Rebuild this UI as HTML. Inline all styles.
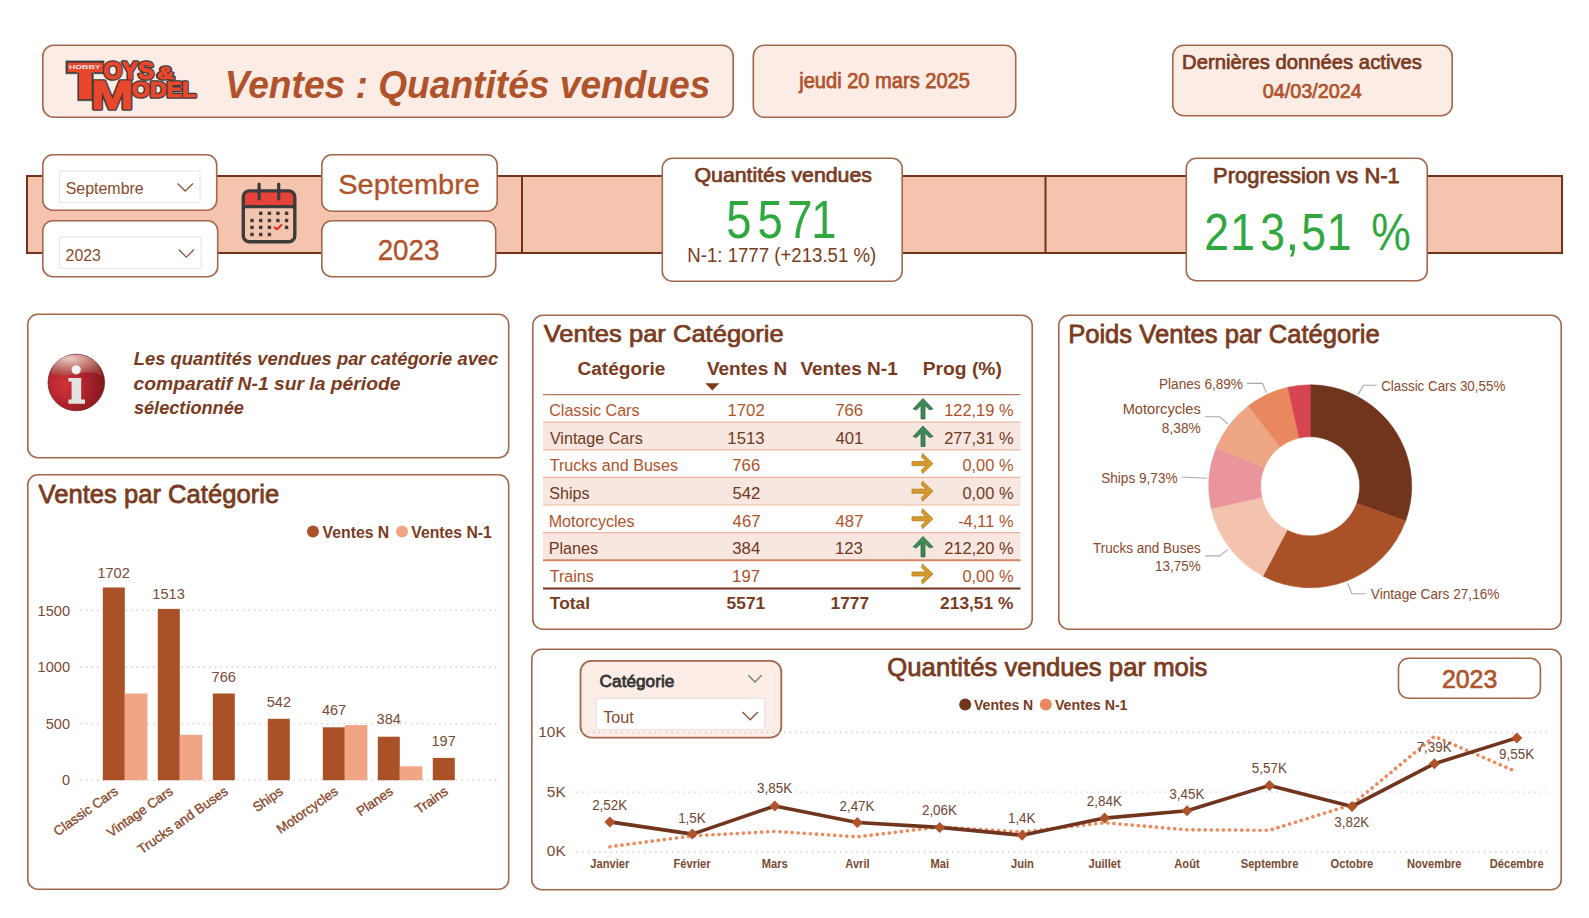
<!DOCTYPE html>
<html><head><meta charset="utf-8"><style>
html,body{margin:0;padding:0;background:#fff;width:1589px;height:918px;overflow:hidden}
svg{position:absolute;left:0;top:0;font-family:'Liberation Sans', sans-serif}
</style></head><body>
<svg width="1589" height="918" viewBox="0 0 1589 918">
<rect x="42.80" y="45.30" width="690.40" height="71.90" rx="11" ry="11" fill="#fcece6" stroke="#a4674c" stroke-width="1.6"/>
<rect x="753.30" y="45.30" width="262.40" height="71.90" rx="11" ry="11" fill="#fcece6" stroke="#a4674c" stroke-width="1.6"/>
<rect x="1172.80" y="45.30" width="279.40" height="70.40" rx="11" ry="11" fill="#fcece6" stroke="#a4674c" stroke-width="1.6"/>
<text x="224.84" y="98.30" font-size="39.57" font-weight="bold" font-style="italic" fill="#b0532a" textLength="485.57" lengthAdjust="spacingAndGlyphs" >Ventes : Quantités vendues</text>
<text x="799.25" y="88.10" font-size="21.43" font-weight="normal" font-style="normal" fill="#b0532a" textLength="170.61" lengthAdjust="spacingAndGlyphs"  stroke="#b0532a" stroke-width="0.75" stroke-linejoin="round">jeudi 20 mars 2025</text>
<text x="1182.03" y="69.10" font-size="20.29" font-weight="normal" font-style="normal" fill="#7a3b1e" textLength="239.92" lengthAdjust="spacingAndGlyphs"  stroke="#7a3b1e" stroke-width="0.71" stroke-linejoin="round">Dernières données actives</text>
<text x="1262.85" y="97.80" font-size="20.43" font-weight="normal" font-style="normal" fill="#b0532a" textLength="98.99" lengthAdjust="spacingAndGlyphs"  stroke="#b0532a" stroke-width="0.72" stroke-linejoin="round">04/03/2024</text>
<g>
<rect x="65.7" y="60.7" width="38.5" height="13.3" fill="#3b3b3b" stroke="#9a9a9a" stroke-width="0.6"/>
<rect x="77.3" y="72" width="16.4" height="29" fill="#3b3b3b" stroke="#9a9a9a" stroke-width="0.6"/>
<rect x="67.5" y="62.7" width="35.7" height="9.5" fill="#e8472b"/>
<rect x="79" y="72" width="12.7" height="27.2" fill="#e8472b"/>
<text x="68.93" y="69.30" font-size="6.23" font-weight="bold" font-style="normal" fill="#f2e8e6" textLength="31.71" lengthAdjust="spacingAndGlyphs" >HOBBY</text>
<text x="103.55" y="78.60" font-size="23.62" font-weight="bold" font-style="normal" fill="#e8472b" textLength="50.33" lengthAdjust="spacingAndGlyphs" stroke="#3b3b3b" stroke-width="3.6" paint-order="stroke" stroke-linejoin="round">OYS</text>
<text x="157.25" y="78.60" font-size="17.10" font-weight="bold" font-style="normal" fill="#e8472b" textLength="16.80" lengthAdjust="spacingAndGlyphs" stroke="#3b3b3b" stroke-width="3.6" paint-order="stroke" stroke-linejoin="round">&amp;</text>
<text x="131.77" y="97.10" font-size="22.46" font-weight="bold" font-style="normal" fill="#e8472b" textLength="64.29" lengthAdjust="spacingAndGlyphs" stroke="#3b3b3b" stroke-width="3.6" paint-order="stroke" stroke-linejoin="round">ODEL</text>
<text x="90.66" y="109.30" font-size="41.30" font-weight="bold" font-style="normal" fill="#e8472b" textLength="42.84" lengthAdjust="spacingAndGlyphs" stroke="#3b3b3b" stroke-width="3.6" paint-order="stroke" stroke-linejoin="round">M</text>
<text x="103.55" y="78.60" font-size="23.62" font-weight="bold" font-style="normal" fill="#e8472b" textLength="50.33" lengthAdjust="spacingAndGlyphs" stroke="#e8472b" stroke-width="1.1" paint-order="stroke" stroke-linejoin="round">OYS</text>
<text x="157.25" y="78.60" font-size="17.10" font-weight="bold" font-style="normal" fill="#e8472b" textLength="16.80" lengthAdjust="spacingAndGlyphs" stroke="#e8472b" stroke-width="1.1" paint-order="stroke" stroke-linejoin="round">&amp;</text>
<text x="131.77" y="97.10" font-size="22.46" font-weight="bold" font-style="normal" fill="#e8472b" textLength="64.29" lengthAdjust="spacingAndGlyphs" stroke="#e8472b" stroke-width="1.1" paint-order="stroke" stroke-linejoin="round">ODEL</text>
<text x="90.66" y="109.30" font-size="41.30" font-weight="bold" font-style="normal" fill="#e8472b" textLength="42.84" lengthAdjust="spacingAndGlyphs" stroke="#e8472b" stroke-width="1.1" paint-order="stroke" stroke-linejoin="round">M</text>
</g>
<rect x="27" y="176" width="1535" height="77" fill="#f4c4ae" stroke="#71341a" stroke-width="2"/>
<line x1="522" y1="176" x2="522" y2="253" stroke="#71341a" stroke-width="2"/>
<line x1="1045.5" y1="176" x2="1045.5" y2="253" stroke="#71341a" stroke-width="2"/>
<rect x="42.80" y="154.80" width="173.90" height="55.40" rx="10" ry="10" fill="#ffffff" stroke="#a4674c" stroke-width="1.6"/>
<rect x="42.80" y="220.80" width="174.90" height="55.90" rx="10" ry="10" fill="#ffffff" stroke="#a4674c" stroke-width="1.6"/>
<rect x="59.5" y="171" width="140.5" height="31.5" fill="#fff" stroke="#e6e6e6" stroke-width="1"/>
<rect x="59.5" y="237" width="141.5" height="31.5" fill="#fff" stroke="#e6e6e6" stroke-width="1"/>
<text x="65.68" y="194.10" font-size="16.29" font-weight="normal" font-style="normal" fill="#8a4a2c" textLength="78.06" lengthAdjust="spacingAndGlyphs" >Septembre</text>
<text x="65.61" y="260.60" font-size="16.71" font-weight="normal" font-style="normal" fill="#8a4a2c" textLength="35.32" lengthAdjust="spacingAndGlyphs" >2023</text>
<polyline points="177.5,183.5 185.2,191 193,183.5" fill="none" stroke="#8a5a44" stroke-width="1.3"/>
<polyline points="178.7,249.5 186.3,257.2 194,249.5" fill="none" stroke="#8a5a44" stroke-width="1.3"/>
<rect x="243.3" y="190.9" width="51.5" height="50.8" rx="6" fill="#e8433a" stroke="none"/>
<rect x="243.3" y="206.5" width="51.5" height="35.2" fill="#f4c4ae"/>
<rect x="243.3" y="190.9" width="51.5" height="50.8" rx="6" fill="none" stroke="#3c3c3c" stroke-width="3.4"/>
<line x1="243.3" y1="206.6" x2="294.8" y2="206.6" stroke="#3c3c3c" stroke-width="3.2"/>
<line x1="259.1" y1="184" x2="259.1" y2="199" stroke="#3c3c3c" stroke-width="3.2" stroke-linecap="round"/>
<line x1="278.7" y1="184" x2="278.7" y2="199" stroke="#3c3c3c" stroke-width="3.2" stroke-linecap="round"/>
<rect x="259.0" y="211.6" width="3.4" height="3.4" fill="#3c3c3c"/>
<rect x="267.7" y="211.6" width="3.4" height="3.4" fill="#3c3c3c"/>
<rect x="276.2" y="211.6" width="3.4" height="3.4" fill="#3c3c3c"/>
<rect x="284.9" y="211.6" width="3.4" height="3.4" fill="#3c3c3c"/>
<rect x="250.3" y="218.8" width="3.4" height="3.4" fill="#3c3c3c"/>
<rect x="259.0" y="218.8" width="3.4" height="3.4" fill="#3c3c3c"/>
<rect x="267.7" y="218.8" width="3.4" height="3.4" fill="#3c3c3c"/>
<rect x="276.2" y="218.8" width="3.4" height="3.4" fill="#3c3c3c"/>
<rect x="284.9" y="218.8" width="3.4" height="3.4" fill="#3c3c3c"/>
<rect x="250.3" y="225.7" width="3.4" height="3.4" fill="#3c3c3c"/>
<rect x="259.0" y="225.7" width="3.4" height="3.4" fill="#3c3c3c"/>
<rect x="267.7" y="225.7" width="3.4" height="3.4" fill="#3c3c3c"/>
<rect x="284.9" y="225.7" width="3.4" height="3.4" fill="#3c3c3c"/>
<rect x="250.3" y="232.8" width="3.4" height="3.4" fill="#3c3c3c"/>
<rect x="259.0" y="232.8" width="3.4" height="3.4" fill="#3c3c3c"/>
<rect x="267.7" y="232.8" width="3.4" height="3.4" fill="#3c3c3c"/>
<polyline points="274.5,227.2 277,229.3 281.5,225" fill="none" stroke="#e02b2b" stroke-width="2" stroke-linecap="round"/>
<rect x="321.80" y="154.80" width="175.40" height="56.40" rx="10" ry="10" fill="#ffffff" stroke="#a4674c" stroke-width="1.6"/>
<rect x="321.80" y="220.80" width="173.90" height="55.90" rx="10" ry="10" fill="#ffffff" stroke="#a4674c" stroke-width="1.6"/>
<text x="338.27" y="193.80" font-size="28.29" font-weight="normal" font-style="normal" fill="#b0532a" textLength="141.71" lengthAdjust="spacingAndGlyphs"  stroke="#b0532a" stroke-width="0.34" stroke-linejoin="round">Septembre</text>
<text x="377.68" y="260.20" font-size="29.43" font-weight="normal" font-style="normal" fill="#b0532a" textLength="61.65" lengthAdjust="spacingAndGlyphs"  stroke="#b0532a" stroke-width="0.35" stroke-linejoin="round">2023</text>
<rect x="662.30" y="158.30" width="239.90" height="122.90" rx="10" ry="10" fill="#ffffff" stroke="#a4674c" stroke-width="1.6"/>
<rect x="1186.30" y="158.30" width="240.90" height="122.40" rx="10" ry="10" fill="#ffffff" stroke="#a4674c" stroke-width="1.6"/>
<text x="694.51" y="182.40" font-size="20.14" font-weight="normal" font-style="normal" fill="#7a3b1e" textLength="177.44" lengthAdjust="spacingAndGlyphs"  stroke="#7a3b1e" stroke-width="0.71" stroke-linejoin="round">Quantités vendues</text>
<text x="726.29" y="238.00" font-size="52.86" font-weight="normal" font-style="normal" fill="#2fa83f" textLength="25.28" lengthAdjust="spacingAndGlyphs" >5</text>
<text x="757.59" y="238.00" font-size="52.86" font-weight="normal" font-style="normal" fill="#2fa83f" textLength="25.28" lengthAdjust="spacingAndGlyphs" >5</text>
<text x="787.34" y="238.00" font-size="52.86" font-weight="normal" font-style="normal" fill="#2fa83f" textLength="25.28" lengthAdjust="spacingAndGlyphs" >7</text>
<text x="811.30" y="238.00" font-size="52.86" font-weight="normal" font-style="normal" fill="#2fa83f" textLength="25.28" lengthAdjust="spacingAndGlyphs" >1</text>
<text x="687.31" y="261.80" font-size="19.29" font-weight="normal" font-style="normal" fill="#7a3b1e" textLength="188.90" lengthAdjust="spacingAndGlyphs" >N-1: 1777 (+213.51 %)</text>
<text x="1213.13" y="182.90" font-size="21.29" font-weight="normal" font-style="normal" fill="#7a3b1e" textLength="186.65" lengthAdjust="spacingAndGlyphs"  stroke="#7a3b1e" stroke-width="0.75" stroke-linejoin="round">Progression vs N-1</text>
<text x="1204.36" y="250.00" font-size="51.71" font-weight="normal" font-style="normal" fill="#2fa83f" textLength="24.74" lengthAdjust="spacingAndGlyphs" >2</text>
<text x="1230.14" y="250.00" font-size="51.71" font-weight="normal" font-style="normal" fill="#2fa83f" textLength="24.74" lengthAdjust="spacingAndGlyphs" >1</text>
<text x="1260.26" y="250.00" font-size="51.71" font-weight="normal" font-style="normal" fill="#2fa83f" textLength="24.74" lengthAdjust="spacingAndGlyphs" >3</text>
<text x="1301.21" y="250.00" font-size="51.71" font-weight="normal" font-style="normal" fill="#2fa83f" textLength="24.74" lengthAdjust="spacingAndGlyphs" >5</text>
<text x="1326.79" y="250.00" font-size="51.71" font-weight="normal" font-style="normal" fill="#2fa83f" textLength="24.74" lengthAdjust="spacingAndGlyphs" >1</text>
<text x="1371.16" y="250.00" font-size="51.71" font-weight="normal" font-style="normal" fill="#2fa83f" textLength="39.54" lengthAdjust="spacingAndGlyphs" >%</text>
<text x="1285.21" y="250.00" font-size="51.71" font-weight="normal" font-style="normal" fill="#2fa83f" textLength="14.17" lengthAdjust="spacingAndGlyphs" >,</text>
<rect x="27.80" y="314.30" width="480.90" height="143.40" rx="10" ry="10" fill="#ffffff" stroke="#a4674c" stroke-width="1.6"/>
<defs><radialGradient id="ig" cx="0.3" cy="0.55" r="0.75"><stop offset="0" stop-color="#d23238"/><stop offset="0.55" stop-color="#a8222a"/><stop offset="1" stop-color="#7a1619"/></radialGradient><radialGradient id="ih" cx="0.38" cy="0.2" r="0.8"><stop offset="0" stop-color="#f0d8d2" stop-opacity="0.95"/><stop offset="0.6" stop-color="#c88c80" stop-opacity="0.75"/><stop offset="1" stop-color="#a05048" stop-opacity="0.6"/></radialGradient></defs>
<circle cx="76.3" cy="382.5" r="28.3" fill="url(#ig)" stroke="#6e1a1a" stroke-width="0.7"/>
<path d="M51,374 C53,361 63,354.4 76.3,354.4 C90,354.4 100,362 102,376 C95,372 88,372 80,373.5 C70,375.5 60,376.5 51,374 Z" fill="url(#ih)"/>
<circle cx="76.2" cy="369.8" r="4.6" fill="#f2f2f2"/>
<path d="M68.4,378 L81.2,378 L81.2,399.5 L85,399.5 L85,403.8 L68.4,403.8 L68.4,399.5 L71.6,399.5 L71.6,381.5 L68.4,381.5 Z" fill="#e2e2e2"/>
<text x="133.73" y="364.60" font-size="17.43" font-weight="bold" font-style="italic" fill="#7a3b1e" textLength="364.58" lengthAdjust="spacingAndGlyphs" >Les quantités vendues par catégorie avec</text>
<text x="133.52" y="390.20" font-size="17.43" font-weight="bold" font-style="italic" fill="#7a3b1e" textLength="267.00" lengthAdjust="spacingAndGlyphs" >comparatif N-1 sur la période</text>
<text x="133.92" y="414.10" font-size="17.43" font-weight="bold" font-style="italic" fill="#7a3b1e" textLength="110.00" lengthAdjust="spacingAndGlyphs" >sélectionnée</text>
<rect x="27.80" y="474.80" width="480.90" height="414.40" rx="10" ry="10" fill="#ffffff" stroke="#a4674c" stroke-width="1.6"/>
<rect x="532.80" y="315.30" width="499.40" height="313.90" rx="10" ry="10" fill="#ffffff" stroke="#a4674c" stroke-width="1.6"/>
<rect x="1058.80" y="315.30" width="502.40" height="313.90" rx="10" ry="10" fill="#ffffff" stroke="#a4674c" stroke-width="1.6"/>
<rect x="531.80" y="649.30" width="1029.40" height="240.40" rx="10" ry="10" fill="#ffffff" stroke="#a4674c" stroke-width="1.6"/>
<text x="38.46" y="502.90" font-size="26.29" font-weight="normal" font-style="normal" fill="#7a3b1e" textLength="240.72" lengthAdjust="spacingAndGlyphs"  stroke="#7a3b1e" stroke-width="0.79" stroke-linejoin="round">Ventes par Catégorie</text>
<circle cx="313" cy="531.5" r="6" fill="#ab5128"/>
<text x="322.62" y="537.70" font-size="17.14" font-weight="bold" font-style="normal" fill="#7a3b1e" textLength="66.57" lengthAdjust="spacingAndGlyphs" >Ventes N</text>
<circle cx="402" cy="531.5" r="6" fill="#f0a585"/>
<text x="411.32" y="537.70" font-size="17.14" font-weight="bold" font-style="normal" fill="#7a3b1e" textLength="80.43" lengthAdjust="spacingAndGlyphs" >Ventes N-1</text>
<line x1="80.5" y1="780.2" x2="497" y2="780.2" stroke="#c9c9c9" stroke-width="1.3" stroke-dasharray="1.3 4.3"/>
<text x="61.92" y="785.30" font-size="14.57" font-weight="normal" font-style="normal" fill="#7a4a33" textLength="8.10" lengthAdjust="spacingAndGlyphs" >0</text>
<line x1="80.5" y1="723.6" x2="497" y2="723.6" stroke="#c9c9c9" stroke-width="1.3" stroke-dasharray="1.3 4.3"/>
<text x="45.75" y="728.70" font-size="14.57" font-weight="normal" font-style="normal" fill="#7a4a33" textLength="24.31" lengthAdjust="spacingAndGlyphs" >500</text>
<line x1="80.5" y1="667.0" x2="497" y2="667.0" stroke="#c9c9c9" stroke-width="1.3" stroke-dasharray="1.3 4.3"/>
<text x="37.59" y="672.10" font-size="14.57" font-weight="normal" font-style="normal" fill="#7a4a33" textLength="32.42" lengthAdjust="spacingAndGlyphs" >1000</text>
<line x1="80.5" y1="610.4" x2="497" y2="610.4" stroke="#c9c9c9" stroke-width="1.3" stroke-dasharray="1.3 4.3"/>
<text x="37.59" y="615.50" font-size="14.57" font-weight="normal" font-style="normal" fill="#7a4a33" textLength="32.42" lengthAdjust="spacingAndGlyphs" >1500</text>
<rect x="102.8" y="587.5" width="22" height="192.7" fill="#ab5128"/>
<rect x="124.8" y="693.5" width="22.6" height="86.7" fill="#f0a585"/>
<text x="97.41" y="577.50" font-size="14.57" font-weight="normal" font-style="normal" fill="#7a4a33" textLength="32.42" lengthAdjust="spacingAndGlyphs" >1702</text>
<text x="113.6" y="785.5" font-size="13.40" fill="#8a4a2c" stroke="#8a4a2c" stroke-width="0.35" text-anchor="end" dominant-baseline="hanging" transform="rotate(-35 113.6 785.5)">Classic Cars</text>
<rect x="157.8" y="608.9" width="22" height="171.3" fill="#ab5128"/>
<rect x="179.8" y="734.8" width="22.6" height="45.4" fill="#f0a585"/>
<text x="152.33" y="599.00" font-size="14.57" font-weight="normal" font-style="normal" fill="#7a4a33" textLength="32.42" lengthAdjust="spacingAndGlyphs" >1513</text>
<text x="168.6" y="785.5" font-size="13.40" fill="#8a4a2c" stroke="#8a4a2c" stroke-width="0.35" text-anchor="end" dominant-baseline="hanging" transform="rotate(-35 168.6 785.5)">Vintage Cars</text>
<rect x="212.8" y="693.5" width="22" height="86.7" fill="#ab5128"/>
<text x="211.60" y="682.20" font-size="14.57" font-weight="normal" font-style="normal" fill="#7a4a33" textLength="24.31" lengthAdjust="spacingAndGlyphs" >766</text>
<text x="223.6" y="785.5" font-size="13.40" fill="#8a4a2c" stroke="#8a4a2c" stroke-width="0.35" text-anchor="end" dominant-baseline="hanging" transform="rotate(-35 223.6 785.5)">Trucks and Buses</text>
<rect x="267.8" y="718.8" width="22" height="61.4" fill="#ab5128"/>
<text x="266.74" y="707.30" font-size="14.57" font-weight="normal" font-style="normal" fill="#7a4a33" textLength="24.31" lengthAdjust="spacingAndGlyphs" >542</text>
<text x="278.6" y="785.5" font-size="13.40" fill="#8a4a2c" stroke="#8a4a2c" stroke-width="0.35" text-anchor="end" dominant-baseline="hanging" transform="rotate(-35 278.6 785.5)">Ships</text>
<rect x="322.8" y="727.3" width="22" height="52.9" fill="#ab5128"/>
<rect x="344.8" y="725.1" width="22.6" height="55.1" fill="#f0a585"/>
<text x="321.89" y="715.00" font-size="14.57" font-weight="normal" font-style="normal" fill="#7a4a33" textLength="24.31" lengthAdjust="spacingAndGlyphs" >467</text>
<text x="333.6" y="785.5" font-size="13.40" fill="#8a4a2c" stroke="#8a4a2c" stroke-width="0.35" text-anchor="end" dominant-baseline="hanging" transform="rotate(-35 333.6 785.5)">Motorcycles</text>
<rect x="377.8" y="736.7" width="22" height="43.5" fill="#ab5128"/>
<rect x="399.8" y="766.3" width="22.6" height="13.9" fill="#f0a585"/>
<text x="376.60" y="724.40" font-size="14.57" font-weight="normal" font-style="normal" fill="#7a4a33" textLength="24.31" lengthAdjust="spacingAndGlyphs" >384</text>
<text x="388.6" y="785.5" font-size="13.40" fill="#8a4a2c" stroke="#8a4a2c" stroke-width="0.35" text-anchor="end" dominant-baseline="hanging" transform="rotate(-35 388.6 785.5)">Planes</text>
<rect x="432.8" y="757.9" width="22" height="22.3" fill="#ab5128"/>
<text x="431.49" y="745.60" font-size="14.57" font-weight="normal" font-style="normal" fill="#7a4a33" textLength="24.31" lengthAdjust="spacingAndGlyphs" >197</text>
<text x="443.6" y="785.5" font-size="13.40" fill="#8a4a2c" stroke="#8a4a2c" stroke-width="0.35" text-anchor="end" dominant-baseline="hanging" transform="rotate(-35 443.6 785.5)">Trains</text>
<text x="543.76" y="342.30" font-size="24.57" font-weight="normal" font-style="normal" fill="#7a3b1e" textLength="239.92" lengthAdjust="spacingAndGlyphs"  stroke="#7a3b1e" stroke-width="0.74" stroke-linejoin="round">Ventes par Catégorie</text>
<text x="577.44" y="375.30" font-size="18.86" font-weight="bold" font-style="normal" fill="#7a3b1e" textLength="87.98" lengthAdjust="spacingAndGlyphs" >Catégorie</text>
<text x="706.90" y="375.30" font-size="18.86" font-weight="bold" font-style="normal" fill="#7a3b1e" textLength="80.41" lengthAdjust="spacingAndGlyphs" >Ventes N</text>
<text x="800.40" y="374.90" font-size="18.86" font-weight="bold" font-style="normal" fill="#7a3b1e" textLength="97.34" lengthAdjust="spacingAndGlyphs" >Ventes N-1</text>
<text x="922.75" y="374.90" font-size="18.86" font-weight="bold" font-style="normal" fill="#7a3b1e" textLength="79.14" lengthAdjust="spacingAndGlyphs" >Prog (%)</text>
<polygon points="705.3,383.3 719.4,383.3 712.35,390.5" fill="#7a3b1e"/>
<rect x="543" y="422.2" width="477.5" height="27.6" fill="#f8e6e0"/>
<rect x="543" y="477.4" width="477.5" height="27.6" fill="#f8e6e0"/>
<rect x="543" y="532.6" width="477.5" height="27.6" fill="#f8e6e0"/>
<text x="549.20" y="416.10" font-size="16.43" font-weight="normal" font-style="normal" fill="#b0532a" textLength="90.35" lengthAdjust="spacingAndGlyphs" >Classic Cars</text>
<text x="727.45" y="416.10" font-size="16.43" font-weight="normal" font-style="normal" fill="#b0532a" textLength="37.28" lengthAdjust="spacingAndGlyphs" >1702</text>
<text x="835.17" y="416.10" font-size="16.43" font-weight="normal" font-style="normal" fill="#b0532a" textLength="27.96" lengthAdjust="spacingAndGlyphs" >766</text>
<text x="944.16" y="416.10" font-size="16.43" font-weight="normal" font-style="normal" fill="#b0532a" textLength="69.42" lengthAdjust="spacingAndGlyphs" >122,19 %</text>
<path d="M913,408.90000000000003 L923,398.40000000000003 L933,408.90000000000003 L929.5,409.90000000000003 L925,405.40000000000003 L925,418.90000000000003 L921,418.90000000000003 L921,405.40000000000003 L916.5,409.90000000000003 Z" fill="#3e8a55" stroke="#2d6b40" stroke-width="0.8" stroke-linejoin="round"/>
<text x="549.92" y="443.70" font-size="16.43" font-weight="normal" font-style="normal" fill="#6e3a22" textLength="92.78" lengthAdjust="spacingAndGlyphs" >Vintage Cars</text>
<text x="727.36" y="443.70" font-size="16.43" font-weight="normal" font-style="normal" fill="#6e3a22" textLength="37.28" lengthAdjust="spacingAndGlyphs" >1513</text>
<text x="835.46" y="443.70" font-size="16.43" font-weight="normal" font-style="normal" fill="#6e3a22" textLength="27.96" lengthAdjust="spacingAndGlyphs" >401</text>
<text x="944.16" y="443.70" font-size="16.43" font-weight="normal" font-style="normal" fill="#6e3a22" textLength="69.42" lengthAdjust="spacingAndGlyphs" >277,31 %</text>
<path d="M913,436.50000000000006 L923,426.00000000000006 L933,436.50000000000006 L929.5,437.50000000000006 L925,433.00000000000006 L925,446.50000000000006 L921,446.50000000000006 L921,433.00000000000006 L916.5,437.50000000000006 Z" fill="#3e8a55" stroke="#2d6b40" stroke-width="0.8" stroke-linejoin="round"/>
<text x="549.68" y="471.30" font-size="16.43" font-weight="normal" font-style="normal" fill="#b0532a" textLength="128.26" lengthAdjust="spacingAndGlyphs" >Trucks and Buses</text>
<text x="732.27" y="471.30" font-size="16.43" font-weight="normal" font-style="normal" fill="#b0532a" textLength="27.96" lengthAdjust="spacingAndGlyphs" >766</text>
<text x="962.40" y="471.30" font-size="16.43" font-weight="normal" font-style="normal" fill="#b0532a" textLength="51.15" lengthAdjust="spacingAndGlyphs" >0,00 %</text>
<path d="M922.5,453.6 L933,463.6 L922.5,473.6 L921.5,470.1 L926,465.6 L912,465.6 L912,461.6 L926,461.6 L921.5,457.1 Z" fill="#d69a2c" stroke="#b27c1c" stroke-width="0.8" stroke-linejoin="round"/>
<text x="549.28" y="498.90" font-size="16.43" font-weight="normal" font-style="normal" fill="#6e3a22" textLength="40.28" lengthAdjust="spacingAndGlyphs" >Ships</text>
<text x="732.43" y="498.90" font-size="16.43" font-weight="normal" font-style="normal" fill="#6e3a22" textLength="27.96" lengthAdjust="spacingAndGlyphs" >542</text>
<text x="962.40" y="498.90" font-size="16.43" font-weight="normal" font-style="normal" fill="#6e3a22" textLength="51.15" lengthAdjust="spacingAndGlyphs" >0,00 %</text>
<path d="M922.5,481.20000000000005 L933,491.20000000000005 L922.5,501.20000000000005 L921.5,497.70000000000005 L926,493.20000000000005 L912,493.20000000000005 L912,489.20000000000005 L926,489.20000000000005 L921.5,484.70000000000005 Z" fill="#d69a2c" stroke="#b27c1c" stroke-width="0.8" stroke-linejoin="round"/>
<text x="548.71" y="526.50" font-size="16.43" font-weight="normal" font-style="normal" fill="#b0532a" textLength="85.89" lengthAdjust="spacingAndGlyphs" >Motorcycles</text>
<text x="732.60" y="526.50" font-size="16.43" font-weight="normal" font-style="normal" fill="#b0532a" textLength="27.96" lengthAdjust="spacingAndGlyphs" >467</text>
<text x="835.50" y="526.50" font-size="16.43" font-weight="normal" font-style="normal" fill="#b0532a" textLength="27.96" lengthAdjust="spacingAndGlyphs" >487</text>
<text x="958.13" y="526.50" font-size="16.43" font-weight="normal" font-style="normal" fill="#b0532a" textLength="55.40" lengthAdjust="spacingAndGlyphs" >-4,11 %</text>
<path d="M922.5,508.79999999999995 L933,518.8 L922.5,528.8 L921.5,525.3 L926,520.8 L912,520.8 L912,516.8 L926,516.8 L921.5,512.3 Z" fill="#d69a2c" stroke="#b27c1c" stroke-width="0.8" stroke-linejoin="round"/>
<text x="548.71" y="554.10" font-size="16.43" font-weight="normal" font-style="normal" fill="#6e3a22" textLength="49.23" lengthAdjust="spacingAndGlyphs" >Planes</text>
<text x="732.27" y="554.10" font-size="16.43" font-weight="normal" font-style="normal" fill="#6e3a22" textLength="27.96" lengthAdjust="spacingAndGlyphs" >384</text>
<text x="834.96" y="554.10" font-size="16.43" font-weight="normal" font-style="normal" fill="#6e3a22" textLength="27.96" lengthAdjust="spacingAndGlyphs" >123</text>
<text x="944.16" y="554.10" font-size="16.43" font-weight="normal" font-style="normal" fill="#6e3a22" textLength="69.42" lengthAdjust="spacingAndGlyphs" >212,20 %</text>
<path d="M913,546.9 L923,536.4 L933,546.9 L929.5,547.9 L925,543.4 L925,556.9 L921,556.9 L921,543.4 L916.5,547.9 Z" fill="#3e8a55" stroke="#2d6b40" stroke-width="0.8" stroke-linejoin="round"/>
<text x="549.68" y="581.70" font-size="16.43" font-weight="normal" font-style="normal" fill="#b0532a" textLength="44.14" lengthAdjust="spacingAndGlyphs" >Trains</text>
<text x="732.14" y="581.70" font-size="16.43" font-weight="normal" font-style="normal" fill="#b0532a" textLength="27.96" lengthAdjust="spacingAndGlyphs" >197</text>
<text x="962.40" y="581.70" font-size="16.43" font-weight="normal" font-style="normal" fill="#b0532a" textLength="51.15" lengthAdjust="spacingAndGlyphs" >0,00 %</text>
<path d="M922.5,564.0 L933,574.0 L922.5,584.0 L921.5,580.5 L926,576.0 L912,576.0 L912,572.0 L926,572.0 L921.5,567.5 Z" fill="#d69a2c" stroke="#b27c1c" stroke-width="0.8" stroke-linejoin="round"/>
<line x1="543" y1="394.6" x2="1020.5" y2="394.6" stroke="#b27a60" stroke-width="1.2"/>
<line x1="543" y1="422.2" x2="1020.5" y2="422.2" stroke="#ecb9a0" stroke-width="1.2"/>
<line x1="543" y1="449.8" x2="1020.5" y2="449.8" stroke="#ecb9a0" stroke-width="1.2"/>
<line x1="543" y1="477.4" x2="1020.5" y2="477.4" stroke="#ecb9a0" stroke-width="1.2"/>
<line x1="543" y1="505.0" x2="1020.5" y2="505.0" stroke="#ecb9a0" stroke-width="1.2"/>
<line x1="543" y1="532.6" x2="1020.5" y2="532.6" stroke="#ecb9a0" stroke-width="1.2"/>
<line x1="543" y1="560.2" x2="1020.5" y2="560.2" stroke="#cf8a64" stroke-width="2"/>
<line x1="543" y1="588.6" x2="1020.5" y2="588.6" stroke="#71341a" stroke-width="2"/>
<text x="549.83" y="608.60" font-size="16.86" font-weight="bold" font-style="normal" fill="#7a3b1e" textLength="40.19" lengthAdjust="spacingAndGlyphs" >Total</text>
<text x="726.64" y="608.60" font-size="16.86" font-weight="bold" font-style="normal" fill="#7a3b1e" textLength="38.63" lengthAdjust="spacingAndGlyphs" >5571</text>
<text x="830.51" y="608.60" font-size="16.86" font-weight="bold" font-style="normal" fill="#7a3b1e" textLength="38.63" lengthAdjust="spacingAndGlyphs" >1777</text>
<text x="940.08" y="608.60" font-size="16.86" font-weight="bold" font-style="normal" fill="#7a3b1e" textLength="73.37" lengthAdjust="spacingAndGlyphs" >213,51 %</text>
<text x="1068.14" y="343.10" font-size="25.71" font-weight="normal" font-style="normal" fill="#7a3b1e" textLength="311.62" lengthAdjust="spacingAndGlyphs"  stroke="#7a3b1e" stroke-width="0.77" stroke-linejoin="round">Poids Ventes par Catégorie</text>
<path d="M1310.20,384.80 A101.5,101.5 0 0 1 1405.59,520.98 L1356.72,503.21 A49.5,49.5 0 0 0 1310.20,436.80 Z" fill="#71341c" stroke="#71341c" stroke-width="0.5"/>
<path d="M1405.59,520.98 A101.5,101.5 0 0 1 1262.93,576.12 L1287.15,530.10 A49.5,49.5 0 0 0 1356.72,503.21 Z" fill="#ab5128" stroke="#ab5128" stroke-width="0.5"/>
<path d="M1262.93,576.12 A101.5,101.5 0 0 1 1211.20,508.69 L1261.92,497.22 A49.5,49.5 0 0 0 1287.15,530.10 Z" fill="#f4c3ae" stroke="#f4c3ae" stroke-width="0.5"/>
<path d="M1211.20,508.69 A101.5,101.5 0 0 1 1216.28,447.81 L1264.40,467.53 A49.5,49.5 0 0 0 1261.92,497.22 Z" fill="#ea959b" stroke="#ea959b" stroke-width="0.5"/>
<path d="M1216.28,447.81 A101.5,101.5 0 0 1 1248.34,405.83 L1280.03,447.05 A49.5,49.5 0 0 0 1264.40,467.53 Z" fill="#efa685" stroke="#efa685" stroke-width="0.5"/>
<path d="M1248.34,405.83 A101.5,101.5 0 0 1 1287.81,387.30 L1299.28,438.02 A49.5,49.5 0 0 0 1280.03,447.05 Z" fill="#e9885e" stroke="#e9885e" stroke-width="0.5"/>
<path d="M1287.81,387.30 A101.5,101.5 0 0 1 1310.20,384.80 L1310.20,436.80 A49.5,49.5 0 0 0 1299.28,438.02 Z" fill="#d74452" stroke="#d74452" stroke-width="0.5"/>
<text x="1381.23" y="390.90" font-size="15.14" font-weight="normal" font-style="normal" fill="#8a4a2c" textLength="124.05" lengthAdjust="spacingAndGlyphs" >Classic Cars 30,55%</text>
<polyline points="1376.6,385.2 1363.5,385.2 1357.8,394.9" fill="none" stroke="#a9a9a9" stroke-width="1.1"/>
<text x="1370.83" y="598.90" font-size="15.14" font-weight="normal" font-style="normal" fill="#8a4a2c" textLength="128.61" lengthAdjust="spacingAndGlyphs" >Vintage Cars 27,16%</text>
<polyline points="1366.2,593.7 1351.8,593.7 1347.8,583.2" fill="none" stroke="#a9a9a9" stroke-width="1.1"/>
<text x="1092.93" y="552.70" font-size="15.14" font-weight="normal" font-style="normal" fill="#8a4a2c" textLength="107.76" lengthAdjust="spacingAndGlyphs" >Trucks and Buses</text>
<text x="1155.09" y="571.40" font-size="15.14" font-weight="normal" font-style="normal" fill="#8a4a2c" textLength="45.53" lengthAdjust="spacingAndGlyphs" >13,75%</text>
<polyline points="1205.2,555.9 1219.7,555.9 1227.9,549.6" fill="none" stroke="#a9a9a9" stroke-width="1.1"/>
<text x="1101.19" y="482.60" font-size="15.14" font-weight="normal" font-style="normal" fill="#8a4a2c" textLength="76.39" lengthAdjust="spacingAndGlyphs" >Ships 9,73%</text>
<polyline points="1181.5,477 1207.2,478.2" fill="none" stroke="#a9a9a9" stroke-width="1.1"/>
<text x="1122.63" y="413.50" font-size="15.14" font-weight="normal" font-style="normal" fill="#8a4a2c" textLength="78.18" lengthAdjust="spacingAndGlyphs" >Motorcycles</text>
<text x="1161.78" y="432.60" font-size="15.14" font-weight="normal" font-style="normal" fill="#8a4a2c" textLength="39.01" lengthAdjust="spacingAndGlyphs" >8,38%</text>
<polyline points="1205,416.8 1219.7,416.8 1227.8,423.8" fill="none" stroke="#a9a9a9" stroke-width="1.1"/>
<text x="1159.01" y="388.80" font-size="15.14" font-weight="normal" font-style="normal" fill="#8a4a2c" textLength="83.98" lengthAdjust="spacingAndGlyphs" >Planes 6,89%</text>
<polyline points="1246.9,383.4 1262.4,383.4 1266.5,392.9" fill="none" stroke="#a9a9a9" stroke-width="1.1"/>
<text x="887.33" y="676.10" font-size="25.00" font-weight="normal" font-style="normal" fill="#7a3b1e" textLength="320.12" lengthAdjust="spacingAndGlyphs"  stroke="#7a3b1e" stroke-width="0.75" stroke-linejoin="round">Quantités vendues par mois</text>
<circle cx="965.2" cy="704.6" r="6" fill="#71341c"/>
<text x="974.03" y="709.50" font-size="15.29" font-weight="bold" font-style="normal" fill="#7a3b1e" textLength="59.24" lengthAdjust="spacingAndGlyphs" >Ventes N</text>
<circle cx="1045.8" cy="704.6" r="6" fill="#e9885e"/>
<text x="1054.93" y="709.50" font-size="15.29" font-weight="bold" font-style="normal" fill="#7a3b1e" textLength="72.58" lengthAdjust="spacingAndGlyphs" >Ventes N-1</text>
<rect x="1398.50" y="658.30" width="141.90" height="39.90" rx="10" ry="10" fill="#ffffff" stroke="#a4674c" stroke-width="1.6"/>
<text x="1441.89" y="688.10" font-size="25.86" font-weight="normal" font-style="normal" fill="#b0532a" textLength="55.36" lengthAdjust="spacingAndGlyphs"  stroke="#b0532a" stroke-width="0.70" stroke-linejoin="round">2023</text>
<line x1="576.8" y1="852.0" x2="1548" y2="852.0" stroke="#c9c9c9" stroke-width="1.3" stroke-dasharray="1.3 4.3"/>
<text x="546.83" y="856.40" font-size="15.43" font-weight="normal" font-style="normal" fill="#7a4a33" textLength="18.87" lengthAdjust="spacingAndGlyphs" >0K</text>
<line x1="576.8" y1="792.2" x2="1548" y2="792.2" stroke="#c9c9c9" stroke-width="1.3" stroke-dasharray="1.3 4.3"/>
<text x="546.83" y="796.65" font-size="15.43" font-weight="normal" font-style="normal" fill="#7a4a33" textLength="18.87" lengthAdjust="spacingAndGlyphs" >5K</text>
<line x1="576.8" y1="732.5" x2="1548" y2="732.5" stroke="#c9c9c9" stroke-width="1.3" stroke-dasharray="1.3 4.3"/>
<text x="538.27" y="736.90" font-size="15.43" font-weight="normal" font-style="normal" fill="#7a4a33" textLength="27.45" lengthAdjust="spacingAndGlyphs" >10K</text>
<text x="590.34" y="868.40" font-size="12.00" font-weight="bold" font-style="normal" fill="#7a4a33" textLength="39.09" lengthAdjust="spacingAndGlyphs" >Janvier</text>
<text x="673.46" y="868.40" font-size="12.00" font-weight="bold" font-style="normal" fill="#7a4a33" textLength="37.22" lengthAdjust="spacingAndGlyphs" >Février</text>
<text x="761.63" y="868.40" font-size="12.00" font-weight="bold" font-style="normal" fill="#7a4a33" textLength="26.05" lengthAdjust="spacingAndGlyphs" >Mars</text>
<text x="845.28" y="868.40" font-size="12.00" font-weight="bold" font-style="normal" fill="#7a4a33" textLength="24.40" lengthAdjust="spacingAndGlyphs" >Avril</text>
<text x="930.41" y="868.40" font-size="12.00" font-weight="bold" font-style="normal" fill="#7a4a33" textLength="18.60" lengthAdjust="spacingAndGlyphs" >Mai</text>
<text x="1010.93" y="868.40" font-size="12.00" font-weight="bold" font-style="normal" fill="#7a4a33" textLength="22.94" lengthAdjust="spacingAndGlyphs" >Juin</text>
<text x="1088.47" y="868.40" font-size="12.00" font-weight="bold" font-style="normal" fill="#7a4a33" textLength="32.25" lengthAdjust="spacingAndGlyphs" >Juillet</text>
<text x="1174.27" y="868.40" font-size="12.00" font-weight="bold" font-style="normal" fill="#7a4a33" textLength="25.41" lengthAdjust="spacingAndGlyphs" >Août</text>
<text x="1240.71" y="868.40" font-size="12.00" font-weight="bold" font-style="normal" fill="#7a4a33" textLength="57.68" lengthAdjust="spacingAndGlyphs" >Septembre</text>
<text x="1330.52" y="868.40" font-size="12.00" font-weight="bold" font-style="normal" fill="#7a4a33" textLength="42.79" lengthAdjust="spacingAndGlyphs" >Octobre</text>
<text x="1406.95" y="868.40" font-size="12.00" font-weight="bold" font-style="normal" fill="#7a4a33" textLength="54.58" lengthAdjust="spacingAndGlyphs" >Novembre</text>
<text x="1489.70" y="868.40" font-size="12.00" font-weight="bold" font-style="normal" fill="#7a4a33" textLength="53.97" lengthAdjust="spacingAndGlyphs" >Décembre</text>
<polyline points="609.9,846.7 692.4,835.9 774.8,831.4 857.2,836.8 939.7,826.9 1022.1,832.0 1104.6,822.7 1187.0,829.8 1269.5,830.3 1352.0,804.6 1434.4,736.4 1516.8,771.9" fill="none" stroke="#ec8a5e" stroke-width="3.6" stroke-dasharray="0.1 6" stroke-linecap="round"/>
<polyline points="609.9,821.9 692.4,834.1 774.8,806.0 857.2,822.5 939.7,827.4 1022.1,835.3 1104.6,818.1 1187.0,810.8 1269.5,785.4 1352.0,806.4 1434.4,763.7 1516.8,737.9" fill="none" stroke="#71341c" stroke-width="3.6" stroke-linejoin="round"/>
<path d="M604.4,821.9 L609.9,816.4 L615.4,821.9 L609.9,827.4 Z" fill="#b0532a"/>
<path d="M686.9,834.1 L692.4,828.6 L697.9,834.1 L692.4,839.6 Z" fill="#b0532a"/>
<path d="M769.3,806.0 L774.8,800.5 L780.3,806.0 L774.8,811.5 Z" fill="#b0532a"/>
<path d="M851.8,822.5 L857.2,817.0 L862.8,822.5 L857.2,828.0 Z" fill="#b0532a"/>
<path d="M934.2,827.4 L939.7,821.9 L945.2,827.4 L939.7,832.9 Z" fill="#b0532a"/>
<path d="M1016.6,835.3 L1022.1,829.8 L1027.7,835.3 L1022.1,840.8 Z" fill="#b0532a"/>
<path d="M1099.1,818.1 L1104.6,812.6 L1110.1,818.1 L1104.6,823.6 Z" fill="#b0532a"/>
<path d="M1181.5,810.8 L1187.0,805.3 L1192.5,810.8 L1187.0,816.3 Z" fill="#b0532a"/>
<path d="M1264.0,785.4 L1269.5,779.9 L1275.0,785.4 L1269.5,790.9 Z" fill="#b0532a"/>
<path d="M1346.5,806.4 L1352.0,800.9 L1357.5,806.4 L1352.0,811.9 Z" fill="#b0532a"/>
<path d="M1428.9,763.7 L1434.4,758.2 L1439.9,763.7 L1434.4,769.2 Z" fill="#b0532a"/>
<path d="M1511.3,737.9 L1516.8,732.4 L1522.3,737.9 L1516.8,743.4 Z" fill="#b0532a"/>
<text x="592.14" y="810.20" font-size="14.57" font-weight="normal" font-style="normal" fill="#6e4533" textLength="35.03" lengthAdjust="spacingAndGlyphs" >2,52K</text>
<text x="678.14" y="822.80" font-size="14.57" font-weight="normal" font-style="normal" fill="#6e4533" textLength="27.58" lengthAdjust="spacingAndGlyphs" >1,5K</text>
<text x="757.10" y="793.10" font-size="14.57" font-weight="normal" font-style="normal" fill="#6e4533" textLength="35.03" lengthAdjust="spacingAndGlyphs" >3,85K</text>
<text x="839.49" y="810.60" font-size="14.57" font-weight="normal" font-style="normal" fill="#6e4533" textLength="35.03" lengthAdjust="spacingAndGlyphs" >2,47K</text>
<text x="921.94" y="815.40" font-size="14.57" font-weight="normal" font-style="normal" fill="#6e4533" textLength="35.03" lengthAdjust="spacingAndGlyphs" >2,06K</text>
<text x="1007.94" y="823.00" font-size="14.57" font-weight="normal" font-style="normal" fill="#6e4533" textLength="27.58" lengthAdjust="spacingAndGlyphs" >1,4K</text>
<text x="1086.84" y="805.60" font-size="14.57" font-weight="normal" font-style="normal" fill="#6e4533" textLength="35.03" lengthAdjust="spacingAndGlyphs" >2,84K</text>
<text x="1169.35" y="798.50" font-size="14.57" font-weight="normal" font-style="normal" fill="#6e4533" textLength="35.03" lengthAdjust="spacingAndGlyphs" >3,45K</text>
<text x="1251.80" y="773.10" font-size="14.57" font-weight="normal" font-style="normal" fill="#6e4533" textLength="35.03" lengthAdjust="spacingAndGlyphs" >5,57K</text>
<text x="1334.25" y="827.20" font-size="14.57" font-weight="normal" font-style="normal" fill="#6e4533" textLength="35.03" lengthAdjust="spacingAndGlyphs" >3,82K</text>
<text x="1416.64" y="751.50" font-size="14.57" font-weight="normal" font-style="normal" fill="#6e4533" textLength="35.03" lengthAdjust="spacingAndGlyphs" >7,39K</text>
<text x="1499.12" y="759.00" font-size="14.57" font-weight="normal" font-style="normal" fill="#6e4533" textLength="35.03" lengthAdjust="spacingAndGlyphs" >9,55K</text>
<rect x="580.5" y="660.8" width="200.8" height="76.8" rx="11" fill="#fcede6" stroke="#a4674c" stroke-width="1.8"/>
<text x="599.63" y="686.50" font-size="17.00" font-weight="normal" font-style="normal" fill="#353535" textLength="74.68" lengthAdjust="spacingAndGlyphs"  stroke="#353535" stroke-width="0.77" stroke-linejoin="round">Catégorie</text>
<line x1="582" y1="732.5" x2="780" y2="732.5" stroke="#c9c9c9" stroke-width="1.3" stroke-dasharray="1.3 4.3"/>
<polyline points="748.3,675.3 755,682 761.7,675.3" fill="none" stroke="#777" stroke-width="1.3"/>
<rect x="596.5" y="698.5" width="168" height="31" fill="#fff" stroke="#e4e4e4" stroke-width="1"/>
<text x="603.28" y="723.10" font-size="16.57" font-weight="normal" font-style="normal" fill="#8a4a2c" textLength="30.59" lengthAdjust="spacingAndGlyphs" >Tout</text>
<polyline points="742.5,712 750.2,719.7 758,712" fill="none" stroke="#8a5a44" stroke-width="1.5"/>
</svg></body></html>
